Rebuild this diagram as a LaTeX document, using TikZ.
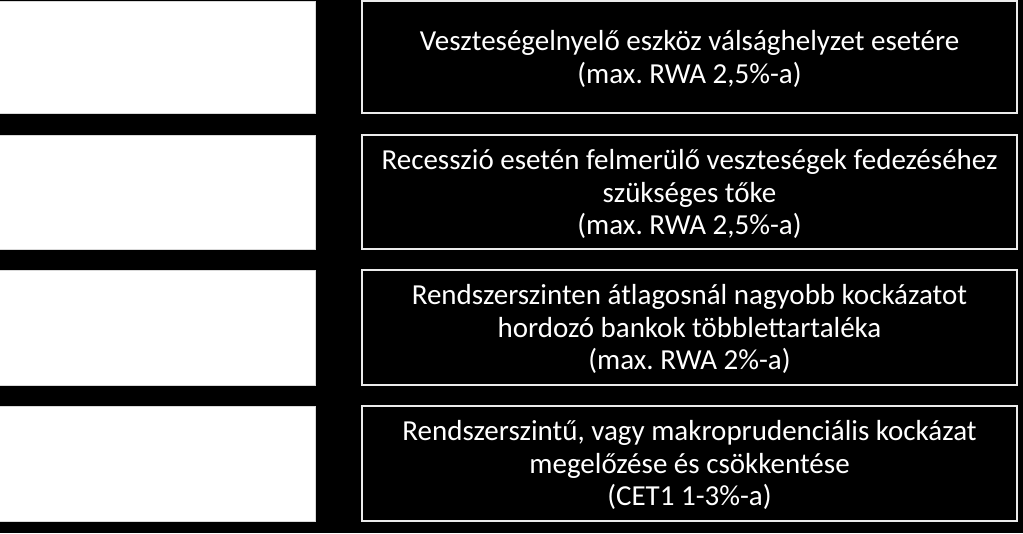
\documentclass[tikz,border=0pt]{standalone}
\usepackage{fontspec}
\setmainfont{Carlito}
\frenchspacing
\begin{document}
\begin{tikzpicture}[x=1pt,y=-1pt,
  leftbox/.style={fill=white,draw=white!85!black,line width=1pt},
  rightbox/.style={draw=white!92!black,line width=2pt,fill=black,text=white,
    align=center,inner sep=0pt,font=\fontsize{29}{32.5}\selectfont}]
\fill[black] (0,0) rectangle (1023,533);
\useasboundingbox (0,0) rectangle (1023,533);
\foreach \t/\b [count=\i] in {1/113,135/249,270/385,406/521}{
  \draw[leftbox] (-2,\t) rectangle (315,\b);
  \draw[rightbox] (362,\t) rectangle (1017,\b);
}
\node[rightbox,draw=none,fill=none] (r1) at (689.5,59) {Veszteségelnyelő eszköz válsághelyzet esetére\\(max. RWA 2,5\%-a)};
\node[rightbox,draw=none,fill=none] (r2) at (689.5,194) {Recesszió esetén felmerülő veszteségek fedezéséhez\\szükséges tőke\\(max. RWA 2,5\%-a)};
\node[rightbox,draw=none,fill=none] (r3) at (689.5,329) {Rendszerszinten átlagosnál nagyobb kockázatot\\hordozó bankok többlettartaléka\\(max. RWA 2\%-a)};
\node[rightbox,draw=none,fill=none] (r4) at (689.5,465) {Rendszerszintű, vagy makroprudenciális kockázat\\megelőzése és csökkentése\\(CET1 1-3\%-a)};
\end{tikzpicture}
\end{document}
